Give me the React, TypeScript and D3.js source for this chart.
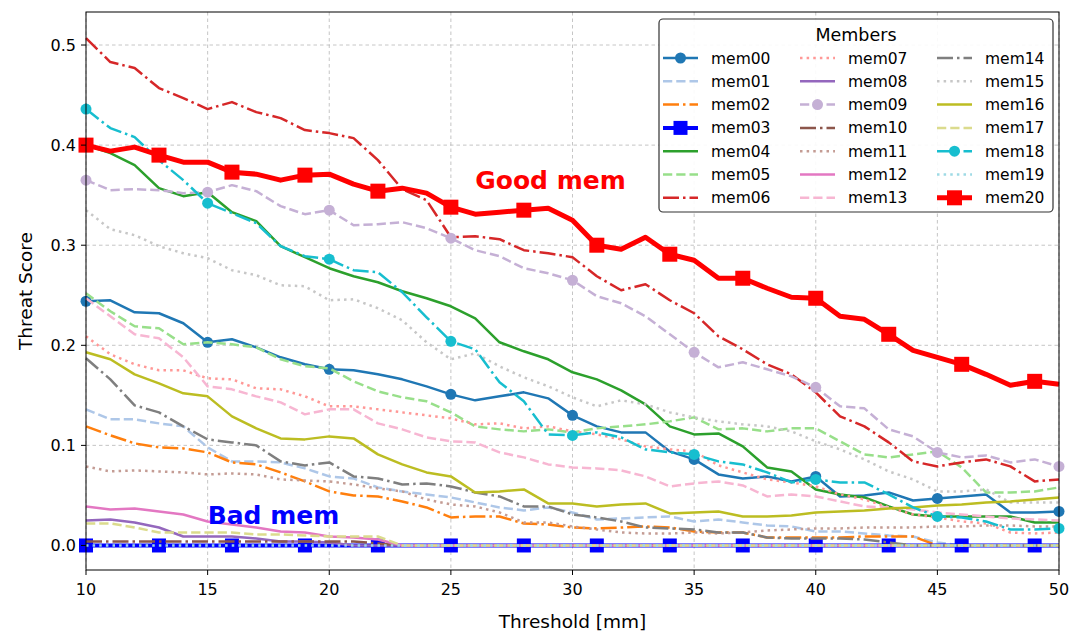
import React from 'react';
import * as d3 from 'd3';

const thresholds = [10, 11, 12, 13, 14, 15, 16, 17, 18, 19, 20, 21, 22, 23, 24, 25, 26, 27, 28, 29, 30, 31, 32, 33, 34, 35, 36, 37, 38, 39, 40, 41, 42, 43, 44, 45, 46, 47, 48, 49, 50];

const mem00 = [0.244, 0.245, 0.233, 0.232, 0.222, 0.203, 0.206, 0.198, 0.188, 0.181, 0.176, 0.175, 0.171, 0.166, 0.159, 0.151, 0.145, 0.149, 0.153, 0.147, 0.130, 0.119, 0.113, 0.113, 0.094, 0.086, 0.071, 0.067, 0.069, 0.064, 0.069, 0.049, 0.050, 0.053, 0.045, 0.047, 0.049, 0.051, 0.033, 0.033, 0.034];
const mem01 = [0.136, 0.126, 0.126, 0.122, 0.119, 0.098, 0.084, 0.084, 0.083, 0.077, 0.069, 0.067, 0.058, 0.054, 0.051, 0.048, 0.043, 0.038, 0.035, 0.038, 0.033, 0.026, 0.027, 0.028, 0.029, 0.024, 0.026, 0.023, 0.020, 0.019, 0.014, 0.014, 0.012, 0.010, 0.009, 0.003, 0, 0, 0, 0, 0];
const mem02 = [0.119, 0.110, 0.102, 0.098, 0.097, 0.093, 0.083, 0.081, 0.073, 0.064, 0.054, 0.050, 0.049, 0.044, 0.038, 0.028, 0.029, 0.029, 0.022, 0.021, 0.018, 0.017, 0.018, 0.019, 0.018, 0.014, 0.013, 0.013, 0.008, 0.008, 0.008, 0.008, 0.009, 0.009, 0.009, 0, 0, 0, 0, 0, 0];
const mem03 = [0, 0, 0, 0, 0, 0, 0, 0, 0, 0, 0, 0, 0, 0, 0, 0, 0, 0, 0, 0, 0, 0, 0, 0, 0, 0, 0, 0, 0, 0, 0, 0, 0, 0, 0, 0, 0, 0, 0, 0, 0];
const mem04 = [0.400, 0.392, 0.380, 0.357, 0.349, 0.353, 0.333, 0.324, 0.299, 0.288, 0.277, 0.269, 0.263, 0.254, 0.247, 0.239, 0.227, 0.203, 0.194, 0.186, 0.173, 0.166, 0.155, 0.141, 0.119, 0.111, 0.112, 0.099, 0.078, 0.074, 0.056, 0.051, 0.048, 0.039, 0.031, 0.029, 0.029, 0.029, 0.029, 0.023, 0.023];
const mem05 = [0.252, 0.234, 0.219, 0.217, 0.201, 0.203, 0.201, 0.198, 0.186, 0.179, 0.177, 0.164, 0.154, 0.148, 0.144, 0.133, 0.119, 0.116, 0.114, 0.116, 0.113, 0.117, 0.119, 0.121, 0.124, 0.128, 0.116, 0.117, 0.114, 0.117, 0.117, 0.104, 0.091, 0.088, 0.091, 0.094, 0.078, 0.053, 0.053, 0.054, 0.058];
const mem06 = [0.507, 0.483, 0.477, 0.457, 0.447, 0.436, 0.443, 0.433, 0.427, 0.415, 0.412, 0.407, 0.385, 0.356, 0.345, 0.308, 0.309, 0.306, 0.295, 0.292, 0.288, 0.269, 0.255, 0.261, 0.245, 0.232, 0.209, 0.196, 0.181, 0.171, 0.153, 0.129, 0.119, 0.103, 0.084, 0.079, 0.083, 0.086, 0.079, 0.064, 0.066];
const mem07 = [0.209, 0.191, 0.181, 0.175, 0.175, 0.167, 0.166, 0.157, 0.156, 0.149, 0.139, 0.139, 0.136, 0.133, 0.130, 0.127, 0.121, 0.122, 0.117, 0.119, 0.114, 0.111, 0.106, 0.099, 0.096, 0.094, 0.080, 0.073, 0.066, 0.063, 0.059, 0.051, 0.046, 0.038, 0.031, 0.028, 0.024, 0.022, 0.013, 0.012, 0.013];
const mem08 = [0.025, 0.026, 0.023, 0.018, 0.009, 0.009, 0.009, 0.007, 0.004, 0.004, 0.003, 0, 0, 0, 0, 0, 0, 0, 0, 0, 0, 0, 0, 0, 0, 0, 0, 0, 0, 0, 0, 0, 0, 0, 0, 0, 0, 0, 0, 0, 0];
const mem09 = [0.365, 0.355, 0.356, 0.355, 0.352, 0.353, 0.360, 0.354, 0.339, 0.331, 0.335, 0.320, 0.321, 0.323, 0.317, 0.307, 0.295, 0.289, 0.277, 0.272, 0.265, 0.249, 0.242, 0.229, 0.211, 0.193, 0.178, 0.183, 0.176, 0.169, 0.158, 0.139, 0.137, 0.116, 0.109, 0.093, 0.088, 0.090, 0.083, 0.086, 0.079];
const mem10 = [0.004, 0.004, 0.004, 0.004, 0.004, 0.004, 0.004, 0.004, 0.004, 0.004, 0.004, 0.004, 0.002, 0, 0, 0, 0, 0, 0, 0, 0, 0, 0, 0, 0, 0, 0, 0, 0, 0, 0, 0, 0, 0, 0, 0, 0, 0, 0, 0, 0];
const mem11 = [0.079, 0.074, 0.075, 0.074, 0.073, 0.071, 0.072, 0.071, 0.066, 0.065, 0.064, 0.061, 0.057, 0.054, 0.046, 0.041, 0.039, 0.033, 0.023, 0.023, 0.019, 0.016, 0.013, 0.012, 0.012, 0.013, 0.012, 0.013, 0.015, 0.016, 0.017, 0.017, 0.018, 0.018, 0.018, 0.019, 0.019, 0.020, 0.020, 0.019, 0.019];
const mem12 = [0.039, 0.036, 0.037, 0.034, 0.031, 0.024, 0.021, 0.018, 0.014, 0.013, 0.009, 0.008, 0.006, 0, 0, 0, 0, 0, 0, 0, 0, 0, 0, 0, 0, 0, 0, 0, 0, 0, 0, 0, 0, 0, 0, 0, 0, 0, 0, 0, 0];
const mem13 = [0.247, 0.229, 0.211, 0.207, 0.188, 0.159, 0.156, 0.149, 0.143, 0.131, 0.136, 0.136, 0.122, 0.116, 0.108, 0.104, 0.103, 0.093, 0.088, 0.081, 0.078, 0.077, 0.075, 0.069, 0.059, 0.062, 0.064, 0.060, 0.049, 0.051, 0.049, 0.044, 0.039, 0.038, 0.036, 0.033, 0.031, 0.029, 0.027, 0.026, 0.025];
const mem14 = [0.187, 0.166, 0.140, 0.133, 0.119, 0.106, 0.103, 0.100, 0.084, 0.080, 0.083, 0.069, 0.067, 0.061, 0.062, 0.059, 0.053, 0.049, 0.039, 0.039, 0.031, 0.028, 0.024, 0.018, 0.017, 0.016, 0.013, 0.013, 0.008, 0.007, 0.007, 0.007, 0.006, 0.003, 0, 0, 0, 0, 0, 0, 0];
const mem15 = [0.335, 0.316, 0.310, 0.299, 0.292, 0.287, 0.275, 0.270, 0.260, 0.259, 0.245, 0.246, 0.237, 0.225, 0.203, 0.186, 0.192, 0.179, 0.168, 0.159, 0.148, 0.139, 0.145, 0.141, 0.133, 0.128, 0.124, 0.121, 0.119, 0.114, 0.104, 0.096, 0.086, 0.074, 0.066, 0.054, 0.054, 0.056, 0.043, 0.043, 0.043];
const mem16 = [0.193, 0.186, 0.171, 0.162, 0.152, 0.149, 0.129, 0.117, 0.107, 0.106, 0.109, 0.107, 0.091, 0.081, 0.073, 0.069, 0.053, 0.054, 0.056, 0.042, 0.042, 0.039, 0.041, 0.042, 0.032, 0.033, 0.034, 0.029, 0.029, 0.030, 0.033, 0.034, 0.035, 0.037, 0.038, 0.040, 0.041, 0.043, 0.044, 0.046, 0.048];
const mem17 = [0.022, 0.022, 0.018, 0.013, 0.013, 0.013, 0.013, 0.011, 0.011, 0.010, 0.009, 0.009, 0.009, 0, 0, 0, 0, 0, 0, 0, 0, 0, 0, 0, 0, 0, 0, 0, 0, 0, 0, 0, 0, 0, 0, 0, 0, 0, 0, 0, 0];
const mem18 = [0.436, 0.417, 0.408, 0.385, 0.365, 0.342, 0.332, 0.322, 0.299, 0.289, 0.286, 0.275, 0.273, 0.253, 0.228, 0.204, 0.196, 0.163, 0.144, 0.111, 0.110, 0.113, 0.108, 0.096, 0.093, 0.091, 0.084, 0.081, 0.073, 0.063, 0.066, 0.063, 0.063, 0.051, 0.038, 0.029, 0.028, 0.024, 0.016, 0.016, 0.017];
const mem19 = [0, 0, 0, 0, 0, 0, 0, 0, 0, 0, 0, 0, 0, 0, 0, 0, 0, 0, 0, 0, 0, 0, 0, 0, 0, 0, 0, 0, 0, 0, 0, 0, 0, 0, 0, 0, 0, 0, 0, 0, 0];
const mem20 = [0.400, 0.394, 0.398, 0.390, 0.383, 0.383, 0.373, 0.371, 0.365, 0.370, 0.371, 0.361, 0.354, 0.357, 0.352, 0.338, 0.331, 0.333, 0.335, 0.337, 0.325, 0.300, 0.296, 0.308, 0.291, 0.285, 0.267, 0.267, 0.257, 0.248, 0.247, 0.229, 0.226, 0.211, 0.195, 0.188, 0.181, 0.171, 0.160, 0.164, 0.161];

const memberNames = ['mem00', 'mem01', 'mem02', 'mem03', 'mem04', 'mem05', 'mem06', 'mem07', 'mem08', 'mem09', 'mem10', 'mem11', 'mem12', 'mem13', 'mem14', 'mem15', 'mem16', 'mem17', 'mem18', 'mem19', 'mem20'];
const memberValues = [mem00, mem01, mem02, mem03, mem04, mem05, mem06, mem07, mem08, mem09, mem10, mem11, mem12, mem13, mem14, mem15, mem16, mem17, mem18, mem19, mem20];

const xTicks = [10, 15, 20, 25, 30, 35, 40, 45, 50];
const yTicks = [0.0, 0.1, 0.2, 0.3, 0.4, 0.5];

const colors = ['#1f77b4', '#aec7e8', '#ff7f0e', '#0000ff', '#2ca02c', '#98df8a', '#d62728', '#ff9896', '#9467bd', '#c5b0d5', '#8c564b', '#c49c94', '#e377c2', '#f7b6d2', '#7f7f7f', '#c7c7c7', '#bcbd22', '#dbdb8d', '#17becf', '#9edae5', '#ff0000'];
const lineStyles = ['-', '--', '-.', '-', '-', '--', '-.', ':', '-', '--', '-.', ':', '-', '--', '-.', ':', '-', '--', '-.', ':', '-'];

function styleFor(i: number) {
  const name = memberNames[i];
  if (name === 'mem20') return { lw: 5, marker: 'square', size: 15, every: 3 };
  if (name === 'mem03') return { lw: 4, marker: 'square', size: 14, every: 3 };
  if (name === 'mem00' || name === 'mem09' || name === 'mem18') return { lw: 2.5, marker: 'circle', size: 11, every: 5 };
  return { lw: 2.5, marker: 'none', size: 0, every: 1 };
}

function dashFor(ls: string, lw: number) {
  if (ls === '--') return `${3.7 * lw},${1.6 * lw}`;
  if (ls === '-.') return `${6.4 * lw},${1.6 * lw},${1 * lw},${1.6 * lw}`;
  if (ls === ':') return `${1 * lw},${1.65 * lw}`;
  return undefined;
}

const FONT = 'DejaVu Sans, Verdana, sans-serif';

export default function App() {
  const W = 1086, H = 631;
  const L = 86, R = 1059, T = 12, B = 570;
  const x = d3.scaleLinear().domain([10, 50]).range([L, R]);
  const y = d3.scaleLinear().domain([-0.0245, 0.533]).range([B, T]);
  const line = d3.line<number>().x((_, i) => x(thresholds[i])).y((d) => y(d));

  const legendX = 659, legendY = 19, legendW = 394, legendH = 193;
  const colX = [663, 800, 937];
  const rowY0 = 58, rowDY = 23.3;

  const renderMarker = (kind: string, cx: number, cy: number, size: number, color: string, key: string) => {
    if (kind === 'circle') return <circle key={key} cx={cx} cy={cy} r={size / 2} fill={color} />;
    if (kind === 'square') return <rect key={key} x={cx - size / 2} y={cy - size / 2} width={size} height={size} fill={color} />;
    return null;
  };

  return (
    <svg width={W} height={H} style={{ position: 'fixed', left: 0, top: 0, background: '#fff' }} fontFamily={FONT}>
      <rect x={0} y={0} width={W} height={H} fill="#fff" />
      {xTicks.map((t) => (
        <line key={'gx' + t} x1={x(t)} x2={x(t)} y1={T} y2={B} stroke="#b0b0b0" strokeWidth={0.9} strokeDasharray="3.5,3" opacity={0.8} />
      ))}
      {yTicks.map((t) => (
        <line key={'gy' + t} x1={L} x2={R} y1={y(t)} y2={y(t)} stroke="#b0b0b0" strokeWidth={0.9} strokeDasharray="3.5,3" opacity={0.8} />
      ))}
      <g>
        {memberValues.map((vals, i) => {
          const st = styleFor(i);
          return (
            <g key={memberNames[i]}>
              <path d={line(vals) || ''} fill="none" stroke={colors[i]} strokeWidth={st.lw} strokeDasharray={dashFor(lineStyles[i], st.lw)} strokeLinejoin="round" />
              {st.marker !== 'none' && vals.map((v, j) => (j % st.every === 0 ? renderMarker(st.marker, x(thresholds[j]), y(v), st.size, colors[i], memberNames[i] + '-' + j) : null))}
            </g>
          );
        })}
      </g>
      <text x={x(26.0)} y={y(0.3565)} fill="#ff0000" fontSize={25} fontWeight="bold">Good mem</text>
      <text x={x(15.0)} y={y(0.0215)} fill="#0000ff" fontSize={25} fontWeight="bold">Bad mem</text>
      <rect x={L} y={T} width={R - L} height={B - T} fill="none" stroke="#000" strokeWidth={1} />
      {xTicks.map((t) => (
        <g key={'xt' + t}>
          <line x1={x(t)} x2={x(t)} y1={B} y2={B + 5} stroke="#000" strokeWidth={1} />
          <text x={x(t)} y={B + 25} textAnchor="middle" fontSize={16} fill="#000">{t}</text>
        </g>
      ))}
      {yTicks.map((t) => (
        <g key={'yt' + t}>
          <line x1={L - 5} x2={L} y1={y(t)} y2={y(t)} stroke="#000" strokeWidth={1} />
          <text x={L - 10} y={y(t) + 5.5} textAnchor="end" fontSize={16} fill="#000">{t.toFixed(1)}</text>
        </g>
      ))}
      <text x={(L + R) / 2} y={628} textAnchor="middle" fontSize={18.5} fill="#000">Threshold [mm]</text>
      <text transform={`translate(32, ${(T + B) / 2}) rotate(-90)`} textAnchor="middle" fontSize={18.5} fill="#000">Threat Score</text>
      <rect x={legendX} y={legendY} width={legendW} height={legendH} rx={4} fill="#fff" fillOpacity={0.9} stroke="#333" strokeWidth={1.2} />
      <text x={legendX + legendW / 2} y={41} textAnchor="middle" fontSize={17.5} fill="#000">Members</text>
      {memberNames.map((name, i) => {
        const col = Math.floor(i / 7), row = i % 7;
        const hx = colX[col], hy = rowY0 + row * rowDY;
        const st = styleFor(i);
        return (
          <g key={'lg' + name}>
            <line x1={hx} x2={hx + 35} y1={hy} y2={hy} stroke={colors[i]} strokeWidth={st.lw} strokeDasharray={dashFor(lineStyles[i], st.lw)} />
            {st.marker !== 'none' && renderMarker(st.marker, hx + 17.5, hy, st.size, colors[i], 'lgm' + name)}
            <text x={hx + 48} y={hy + 5.5} fontSize={15.5} fill="#000">{name}</text>
          </g>
        );
      })}
    </svg>
  );
}
